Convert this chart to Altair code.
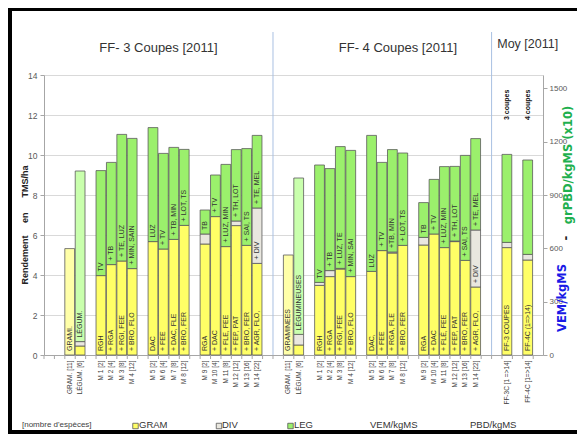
import altair as alt
import pandas as pd

# ---------------- data ----------------
x_labels = [
    "", "", "GRAM. [11]", "LÉGUM. [6]", "",
    "M 1 [2]", "M 2 [4]", "M 3 [8]", "M 4 [12]", "",
    "M 5 [2]", "M 6 [4]", "M 7 [8]", "M 8 [12]", "",
    "M 9 [2]", "M 10 [4]", "M 11 [8]", "M 12 [12]", "M 13 [16]", "M 14 [22]", "", "",
    "GRAM. [11]", "LÉGUM. [6]", "",
    "M 1 [2]", "M 2 [4]", "M 3 [8]", "M 4 [12]", "",
    "M 5 [2]", "M 6 [4]", "M 7 [8]", "M 8 [12]", "",
    "M 9 [2]", "M 10 [4]", "M 11 [8]", "M 12 [12]", "M 13 [16]", "M 14 [22]", "", "",
    "FF-3C [1 =>14]", "", "FF-4C [1=>14]", "",
]

# FF - 3 coupes (TMS/ha per component)
gram_3c = [5.32, 0.45, 3.97, 4.52, 4.70, 4.32, 5.67, 5.30, 5.78, 6.48, 5.55, 6.92, 5.42, 6.47, 5.48, 4.58]
div_3c = [0, 0.22, 0, 0, 0, 0, 0, 0, 0, 0, 0.50, 0, 0, 0.23, 0, 2.77]
leg_3c = [0, 8.53, 5.25, 5.11, 6.33, 6.51, 5.70, 4.78, 4.60, 3.80, 1.20, 2.08, 4.11, 3.57, 4.84, 3.63]
# FF - 4 coupes
gram_4c = [5.00, 0.50, 3.48, 3.92, 4.30, 3.92, 4.18, 5.22, 5.10, 5.48, 5.50, 6.05, 5.37, 5.67, 4.73, 3.40]
div_4c = [0, 0.53, 0.15, 0.30, 0.03, 0, 0, 0, 0.05, 0, 0.38, 0, 0, 0.03, 0, 2.85]
leg_4c = [0, 7.82, 5.87, 5.10, 6.09, 6.31, 6.80, 4.41, 5.12, 4.62, 1.74, 2.73, 4.05, 3.73, 5.25, 4.57]
# Moyennes
gram_moy = [5.37, 4.75]
div_moy = [0.26, 0.28]
leg_moy = [4.40, 4.72]

gram_txt_3c = ["GRAMI.", "", "RGH", "+ RGA", "+ RGI, FEE", "+ BRO, FLO", "DAC", "+ FEE", "+ DAC, FLE",
               "+ BRO, FER", "RGA", "+ DAC", "+ FLE, FEE", "+ FEP, PAT", "+ BRO, FER", "+ AGR, FLO,"]
leg_txt_3c = ["", "LÉGUM.", "TV", "+ TB", "+ TE, LUZ", "+ MIN, SAIN", "LUZ", "+ TV", "+ TB, MIN",
              "+ LOT, TS", "TB", "+ TV", "+ LUZ, MIN", "+ TH, LOT", "+ SAI, TS", "+ TE, MEL"]
div_txt_3c = [""] * 15 + ["+ DIV"]
gram_txt_4c = ["GRAMINEES", "", "RGH", "+ RGA", "+ RGI, FEE", "+ BRO, FLO", "DAC,", "+ FEE", "+ RGA, FLE",
               "+ BRO, FER", "RGA", "+ DAC", "+ FLÉ, FEE", "+ FEP, PAT", "+ BRO, FER", "+ AGR, FLO,"]
leg_txt_4c = ["", "LÉGUMINEUSES", "TV", "+ TB", "+ LUZ, TE", "+ MIN, SAI", "LUZ", "+ TV", "+TB, MIN",
              "+ LOT, TS", "TB", "+ TV", "+ LUZ, MIN", "+ TH, LOT", "+ SAI, TS", "+ TE, MEL"]
div_txt_4c = [""] * 15 + ["+ DIV"]
gram_txt_moy = ["FF-3 COUPES", "FF-4C (1=>14)"]
leg_txt_moy = ["", ""]
div_txt_moy = ["", ""]
moy_notes = ["3 coupes", "4 coupes"]

group_titles = ["FF- 3 Coupes [2011]", "FF- 4 Coupes [2011]"]
moy_title = "Moy [2011]"
right_ticks = [0, 300, 600, 900, 1200, 1500]

# ---------------- build tables ----------------
keys = [f"{i:02d}|{lab}" for i, lab in enumerate(x_labels)]
slots = [i for i, lab in enumerate(x_labels) if lab]
gram = gram_3c + gram_4c + gram_moy
div = div_3c + div_4c + div_moy
leg = leg_3c + leg_4c + leg_moy
gtx = gram_txt_3c + gram_txt_4c + gram_txt_moy
dtx = div_txt_3c + div_txt_4c + div_txt_moy
ltx = leg_txt_3c + leg_txt_4c + leg_txt_moy

seg_rows, txt_rows = [], []
for n, i in enumerate(slots):
    key = keys[i]
    name = x_labels[i]
    base = 0.0
    for comp, vals, txts in (("GRAM", gram, gtx), ("DIV", div, dtx), ("LEG", leg, ltx)):
        v = vals[n]
        if v > 0:
            tone = comp
            if comp == "GRAM" and name.startswith("GRAM"):
                tone = "GRAM_p"
            if comp == "LEG" and name.startswith("LÉGUM"):
                tone = "LEG_p"
            seg_rows.append({"key": key, "tone": tone, "y0": base, "y1": base + v})
            if txts[n]:
                txt_rows.append({"key": key, "base": base, "txt": txts[n]})
            base += v
seg_df = pd.DataFrame(seg_rows)
txt_df = pd.DataFrame(txt_rows)

W, H = 499, 280
SANS = "Liberation Sans, Arial"

xscale = alt.Scale(domain=keys, paddingInner=0.06, paddingOuter=0)
yscale = alt.Scale(domain=[0, 14], nice=False)
x_axis = alt.Axis(labelExpr="split(datum.value, '|')[1]", labelAngle=-90, labelFont=SANS,
                  labelFontSize=6.5, labelColor="#404040", labelPadding=5, ticks=False, tickSize=0,
                  domainColor="#a6a6a6", title=None, grid=False)
y_axis = alt.Axis(values=list(range(0, 15, 2)), grid=True, gridColor="#d9d9d9", domainColor="#a6a6a6",
                  tickColor="#a6a6a6", tickSize=4, labelFont=SANS, labelFontSize=8.5,
                  labelColor="#595959", labelPadding=3, title=None)


def X(bp=None):
    if bp is None:
        return alt.X("key:N", scale=xscale, sort=keys, axis=x_axis)
    return alt.X("key:N", scale=xscale, sort=keys, axis=x_axis, bandPosition=bp)


bars = alt.Chart(seg_df).mark_bar(stroke="#5b5b5b", strokeWidth=0.8).encode(
    x=X(),
    y=alt.Y("y0:Q", scale=yscale, axis=y_axis),
    y2="y1:Q",
    color=alt.Color("tone:N", legend=None, scale=alt.Scale(
        domain=["GRAM", "GRAM_p", "DIV", "LEG", "LEG_p"],
        range=["#FFFF66", "#FFFFA8", "#E9E7DF", "#9BF06C", "#C9FFAD"])),
)

seg_txt = alt.Chart(txt_df).mark_text(angle=270, align="left", baseline="middle", dx=4,
                                      font=SANS, fontSize=7, color="#333333").encode(
    x=X(), y=alt.Y("base:Q", scale=yscale, axis=y_axis), text="txt:N")

ticks = alt.Chart(pd.DataFrame({"key": keys})).mark_rule(color="#a6a6a6").encode(
    x=X(0), y=alt.value(H), y2=alt.value(H + 4))

seps = alt.Chart(pd.DataFrame({"key": [keys[22], keys[43]]})).mark_rule(color="#a9c0e2", strokeWidth=1).encode(
    x=X(0), y=alt.value(-43), y2=alt.value(H))

titles = alt.Chart(pd.DataFrame({"key": [keys[11], keys[34]], "t": group_titles})).mark_text(
    font=SANS, fontSize=13, color="#333333", baseline="middle").encode(
    x=X(0), y=alt.value(-27), text="t:N")

moy_t = alt.Chart(pd.DataFrame({"key": [keys[46]], "t": [moy_title]})).mark_text(
    font=SANS, fontSize=12.5, color="#333333", baseline="middle").encode(
    x=X(0.5), y=alt.value(-31), text="t:N")

notes = alt.Chart(pd.DataFrame({"key": [keys[44], keys[46]], "t": moy_notes})).mark_text(
    angle=270, align="left", baseline="middle", font=SANS, fontSize=7, fontWeight="bold",
    color="#111111").encode(x=X(), y=alt.value(45), text="t:N")

# axis titles
def vtext(t, x, y, color, size, font, weight="bold"):
    return alt.Chart(pd.DataFrame({"t": [t]})).mark_text(
        angle=270, align="center", baseline="middle", font=font, fontSize=size,
        fontWeight=weight, color=color).encode(x=alt.value(x), y=alt.value(y), text="t:N")

left_title = vtext("Rendement\u00a0\u00a0\u00a0\u00a0\u00a0en\u00a0\u00a0\u00a0\u00a0\u00a0\u00a0TMS/ha",
                   -19, 150, "#222222", 9, SANS)
r1 = vtext("VEM/kgMS", 519, 223, "#1a1ae6", 11.5, "DejaVu Sans")
r2 = vtext("-", 523, 163, "#222222", 11.5, "DejaVu Sans")
r3 = vtext("grPBD/kgMS (x10)", 525, 90, "#1fb04f", 11.5, "DejaVu Sans")

# legend (bottom)
def ltext(t, x, size=9.5, color="#333333"):
    return alt.Chart(pd.DataFrame({"t": [t]})).mark_text(
        align="left", baseline="middle", font=SANS, fontSize=size, color=color).encode(
        x=alt.value(x), y=alt.value(350), text="t:N")

def lsq(x, color):
    return alt.Chart(pd.DataFrame({"t": [0]})).mark_square(
        size=30, filled=True, color=color, stroke="#555555", strokeWidth=0.8, opacity=1).encode(
        x=alt.value(x), y=alt.value(351))

legend = [
    ltext("[nombre d'espèces]", -22, 8, "#404040"),
    lsq(91.5, "#FFFF66"), ltext("GRAM", 95),
    lsq(175, "#E9E7DF"), ltext("DIV", 178),
    lsq(246.5, "#9BF06C"), ltext("LEG", 250),
    ltext("VEM/kgMS", 326), ltext("PBD/kgMS", 426),
]

# frame
def frule(x, x2, y, y2, w):
    return alt.Chart(pd.DataFrame({"t": [0]})).mark_rule(color="#000000", strokeWidth=w).encode(
        x=alt.value(x), x2=alt.value(x2), y=alt.value(y), y2=alt.value(y2))

frame = [
    frule(-36, 533, -65.5, -65.5, 3),
    frule(-34, -34, -67, 359, 4),
    frule(-36, 533, 357, 357, 4),
]

inner = alt.layer(bars, seg_txt, ticks, seps, titles, moy_t, notes, left_title, r1, r2, r3,
                  *legend, *frame)

right = alt.Chart(pd.DataFrame({"v": [0, 1575]})).mark_point(opacity=0).encode(
    y=alt.Y("v:Q", scale=alt.Scale(domain=[0, 1575], nice=False),
            axis=alt.Axis(orient="right", values=right_ticks, format="d", grid=False,
                          domainColor="#a6a6a6", tickColor="#a6a6a6", tickSize=4, labelFont=SANS,
                          labelFontSize=8, labelColor="#595959", labelPadding=2, title=None)))

chart = alt.layer(inner, right).resolve_scale(y="independent").properties(
    width=W, height=H,
    padding={"left": 36, "top": 67, "right": 34, "bottom": 79},
    autosize=alt.AutoSizeParams(type="none"),
    background="white",
).configure_view(stroke=None)

chart.save("out.html", embed_options={"renderer": "svg", "actions": False})
